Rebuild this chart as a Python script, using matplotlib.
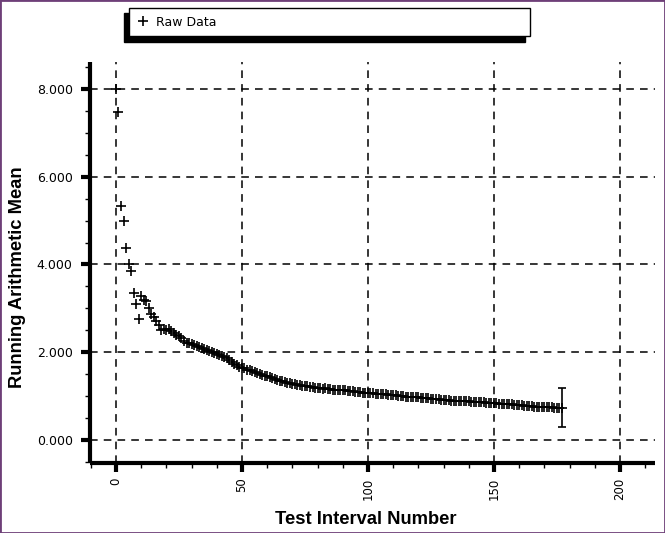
import matplotlib
matplotlib.use("Agg")
import matplotlib.pyplot as plt
from matplotlib.patches import Rectangle
from matplotlib.ticker import MultipleLocator, FuncFormatter

# ---- data ----
interval = list(range(0, 178))
running_mean = [
    8.00, 7.48, 5.33, 4.99, 4.37, 4.02, 3.86, 3.36, 3.10, 2.76,
    3.28, 3.20, 3.16, 3.00, 2.88, 2.80, 2.72, 2.62, 2.50, 2.52,
    2.50, 2.53, 2.49, 2.45, 2.40, 2.38, 2.33, 2.26, 2.22, 2.20,
    2.18, 2.17, 2.14, 2.12, 2.10, 2.07, 2.04, 2.02, 2.00, 1.98,
    1.96, 1.94, 1.92, 1.90, 1.86, 1.82, 1.78, 1.74, 1.70, 1.67,
    1.65, 1.63, 1.60, 1.59, 1.57, 1.55, 1.53, 1.51, 1.49, 1.47,
    1.45, 1.43, 1.41, 1.39, 1.37, 1.35, 1.34, 1.32, 1.30, 1.29,
    1.28, 1.27, 1.26, 1.25, 1.24, 1.23, 1.22, 1.21, 1.20, 1.19,
    1.18, 1.18, 1.17, 1.18, 1.17, 1.16, 1.15, 1.15, 1.14, 1.14,
    1.13, 1.13, 1.12, 1.12, 1.11, 1.10, 1.10, 1.09, 1.08, 1.07,
    1.06, 1.07, 1.06, 1.05, 1.05, 1.04, 1.04, 1.04, 1.03, 1.03,
    1.02, 1.02, 1.01, 1.00, 1.00, 0.99, 0.99, 0.98, 0.98, 0.97,
    0.97, 0.96, 0.96, 0.95, 0.95, 0.94, 0.94, 0.93, 0.93, 0.92,
    0.92, 0.91, 0.91, 0.90, 0.90, 0.90, 0.89, 0.89, 0.88, 0.88,
    0.88, 0.87, 0.87, 0.87, 0.86, 0.86, 0.86, 0.85, 0.85, 0.85,
    0.84, 0.84, 0.83, 0.83, 0.82, 0.82, 0.81, 0.81, 0.80, 0.80,
    0.79, 0.79, 0.78, 0.78, 0.77, 0.77, 0.76, 0.76, 0.76, 0.76,
    0.75, 0.75, 0.75, 0.75, 0.74, 0.74, 0.74, 0.74,
]
last_error = 0.44
x_ticks = [0, 50, 100, 150, 200]
y_ticks = [0, 2, 4, 6, 8]
series_label = "Raw Data"
x_label = "Test Interval Number"
y_label = "Running Arithmetic Mean"

W, H = 665, 533
fig = plt.figure(figsize=(W / 100, H / 100), dpi=100)
fig.patch.set_facecolor("white")

def fx(px):
    return px / W

def fy(py):
    return 1 - py / H

ax = fig.add_axes([fx(90), fy(463), fx(655) - fx(90), fy(62) - fy(463)])
ax.set_facecolor("white")

line, = ax.plot(interval, running_mean, linestyle="none", marker="+",
                markersize=6.5, markeredgewidth=1.2, color="black",
                label=series_label, zorder=3)
ax.errorbar([interval[-1]], [running_mean[-1]], yerr=[last_error], fmt="none",
            ecolor="black", elinewidth=1.2, capsize=3, capthick=1.2, zorder=3)

ax.set_xlim(-10.3, 213.9)
ax.set_ylim(-0.524, 8.615)

ax.set_xticks(x_ticks)
ax.set_yticks(y_ticks)
ax.xaxis.set_minor_locator(MultipleLocator(10))
ax.yaxis.set_minor_locator(MultipleLocator(0.5))
ax.yaxis.set_major_formatter(FuncFormatter(lambda v, p: f"{v:.3f}"))

for s in ["top", "right"]:
    ax.spines[s].set_visible(False)
for s in ["left", "bottom"]:
    ax.spines[s].set_linewidth(3)
    ax.spines[s].set_capstyle("butt")

ax.tick_params(axis="both", which="major", direction="out", length=6.5,
               width=3, color="black")
ax.tick_params(axis="both", which="minor", direction="out", length=3.5,
               width=1, color="black")
ax.tick_params(axis="y", which="major", labelsize=9, pad=6)
ax.tick_params(axis="x", which="major", labelsize=8.5, pad=4,
               labelrotation=90)

ax.grid(True, which="major", color="black", linewidth=1.1,
        linestyle=(0, (5, 4)), zorder=1)
ax.set_axisbelow(True)

label_font = dict(family=["Liberation Sans", "DejaVu Sans"], weight="bold",
                  size=13.2)
fig.text(fx(366), fy(519.5), x_label, ha="center", va="center", **label_font)
fig.text(fx(18), fy(277), y_label, ha="center", va="center",
         rotation=90, **label_font)

# legend box with shadow
fig.patches.append(Rectangle((fx(124), fy(42)), fx(525) - fx(124),
                             fy(13) - fy(42), transform=fig.transFigure,
                             facecolor="black", edgecolor="black", zorder=1))
fig.patches.append(Rectangle((fx(129), fy(36)), fx(530) - fx(129),
                             fy(8) - fy(36), transform=fig.transFigure,
                             facecolor="white", edgecolor="black",
                             linewidth=1, zorder=2))
leg = fig.legend(handles=[line], labels=[series_label], loc="center left",
                 bbox_to_anchor=(fx(138), fy(22)), frameon=False,
                 handlelength=0.8, handletextpad=0.6, borderpad=0,
                 borderaxespad=0, fontsize=9)
leg.set_zorder(5)

# outer purple frame
fig.patches.append(Rectangle((0, 0), 1, 1, transform=fig.transFigure,
                             fill=False, edgecolor="#6e3f78", linewidth=2,
                             zorder=10))

fig.savefig("out.png", dpi=100)
